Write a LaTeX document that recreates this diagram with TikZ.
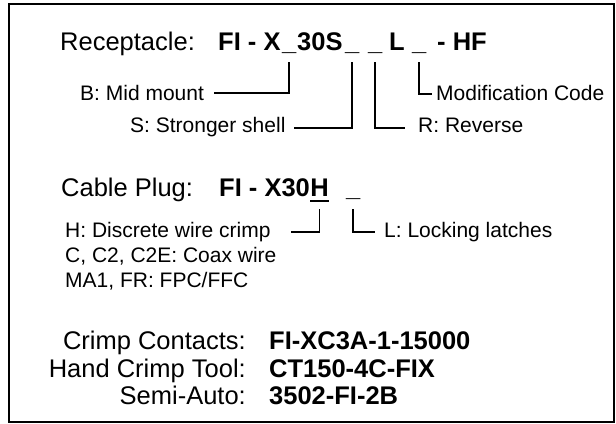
\documentclass[tikz,border=0pt]{standalone}
\usepackage{fontspec}
\setmainfont{Liberation Sans}
\begin{document}
\begin{tikzpicture}[x=1bp,y=-1bp,
  big/.style={font=\fontsize{25.5bp}{30bp}\selectfont, inner sep=0pt, anchor=base west},
  bigb/.style={font=\fontsize{25.5bp}{30bp}\selectfont\bfseries, inner sep=0pt, anchor=base west},
  small/.style={font=\fontsize{21bp}{25bp}\selectfont, inner sep=0pt, anchor=base west},
  conn/.style={line width=1.6bp}]
\useasboundingbox (0,0) rectangle (616,423);
\draw[line width=2bp] (8.5,4) rectangle (614,421.5);

% Receptacle row
\node[big]  (rec) at (60,50) {Receptacle:};
\node[bigb] (p1) at (218,50) {FI - X};
\node[bigb] (u1) at (282,50) {\_};
\node[bigb] (p2) at (297,50) {30S};
\node[bigb] (u2) at (345,50) {\_};
\node[bigb] (u3) at (368,50) {\_};
\node[bigb] (p3) at (389,50) {L};
\node[bigb] (u4) at (412,50) {\_};
\node[bigb] (p4) at (437,50) {- HF};

\node[small] (lB) at (80,100) {B: Mid mount};
\node[small] (lM) at (436,100) {Modification Code};
\node[small] (lS) at (130,132) {S: Stronger shell};
\node[small] (lR) at (418,132) {R: Reverse};

\draw[conn] ([yshift=-12bp]u1.base) |- ([xshift=10bp,yshift=7bp]lB.base east);
\draw[conn] ([yshift=-12bp]u2.base) |- ([xshift=8bp,yshift=4bp]lS.base east);
\draw[conn] ([yshift=-12bp]u3.base) |- ([xshift=-13bp,yshift=4bp]lR.base west);
\draw[conn] ([yshift=-12bp]u4.base) |- ([xshift=-4bp,yshift=6bp]lM.base west);

% Cable plug row
\node[big]  (cp) at (61,196) {Cable Plug:};
\node[bigb] (q1) at (219,196) {FI - X30};
\node[bigb, anchor=base west] (q2) at (q1.base east) {H};
\node[bigb] (q3) at (346,196) {\_};
\draw[line width=2.2bp] ([yshift=-5bp]q2.base west) -- ([yshift=-5bp]q2.base east);

\node[small] (lH) at (65,237) {H: Discrete wire crimp};
\node[small] (lL) at (384,237) {L: Locking latches};
\node[small] (lC) at (65,262) {C, C2, C2E: Coax wire};
\node[small] (lMA) at (65,287) {MA1, FR: FPC/FFC};

\draw[conn] ([yshift=-13bp]q2.base) |- ([xshift=20bp,yshift=5bp]lH.base east);
\draw[conn] ([yshift=-13bp]q3.base) |- ([xshift=-9bp,yshift=5bp]lL.base west);

% Bottom
\node[big, anchor=base east] (k1) at (246,349) {Crimp Contacts:};
\node[bigb] (v1) at (269,349) {FI-XC3A-1-15000};
\node[big, anchor=base east] (k2) at (246,377) {Hand Crimp Tool:};
\node[bigb] (v2) at (269,377) {CT150-4C-FIX};
\node[big, anchor=base east] (k3) at (246,404) {Semi-Auto:};
\node[bigb] (v3) at (269,404) {3502-FI-2B};
\end{tikzpicture}
\end{document}
